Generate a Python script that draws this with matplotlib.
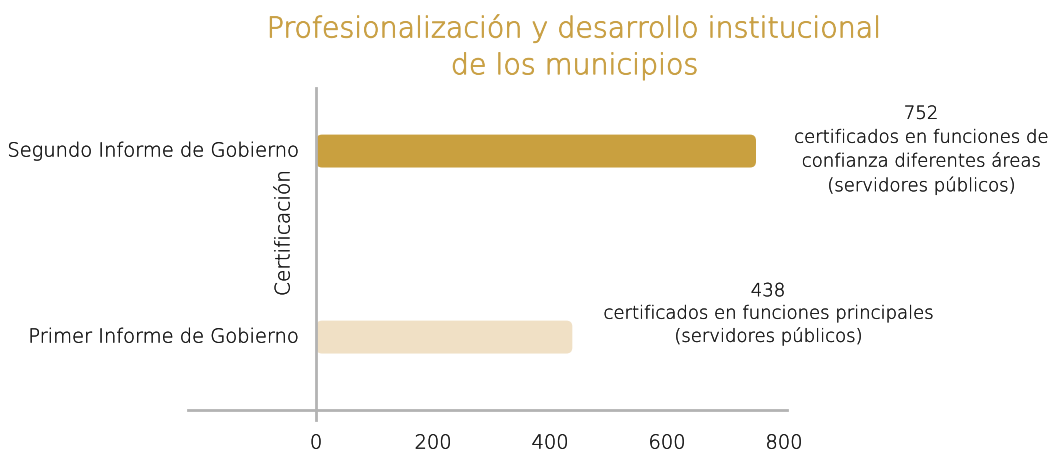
import matplotlib
matplotlib.use("Agg")
import matplotlib.pyplot as plt
from matplotlib.patches import FancyBboxPatch
import matplotlib.transforms as mtransforms
import matplotlib.patheffects as pe

categories = ["Primer Informe de Gobierno", "Segundo Informe de Gobierno"]
values = [438, 752]
bar_colors = ["#F0E0C5", "#C9A03F"]
annotations = [
    "438\ncertificados en funciones principales\n(servidores públicos)",
    "752\ncertificados en funciones de\nconfianza diferentes áreas\n(servidores públicos)",
]
xticks = [0, 200, 400, 600, 800]
title = "Profesionalización y desarrollo institucional\nde los municipios"
ylabel = "Certificación"

FONT = "DejaVu Sans"
WEIGHT = 200
TXT = "#1a1a1a"
GOLD = "#C9A044"
TXT_PE = [pe.withStroke(linewidth=0.2, foreground=TXT)]
W, H = 1054, 453
fig = plt.figure(figsize=(W / 100, H / 100), dpi=100)
left, right, top, bottom = 188, 787, 88, 410
ax = fig.add_axes([left / W, 1 - bottom / H, (right - left) / W, (bottom - top) / H])

xmin, xmax = -219, 805
ymin, ymax = -0.392, 1.339
ax.set_xlim(xmin, xmax)
ax.set_ylim(ymin, ymax)
for s in ax.spines.values():
    s.set_visible(False)

bar_h = 0.177
ux = (xmax - xmin) / (right - left)
uy = (ymax - ymin) / (bottom - top)
for i, (v, c) in enumerate(zip(values, bar_colors)):
    p = FancyBboxPatch((0, i - bar_h / 2), v, bar_h,
                       boxstyle=f"round,pad=0,rounding_size={6 * ux}",
                       mutation_aspect=uy / ux, fc=c, ec="none", zorder=2)
    ax.add_patch(p)

# axis lines
ax.axhline(ymin, color="#B3B3B3", lw=2, clip_on=False, zorder=1)
trans = mtransforms.blended_transform_factory(ax.transData, ax.transAxes)
ax.plot([0, 0], [-10 / (bottom - top), 1.0], color="#B3B3B3", lw=2,
        transform=trans, clip_on=False, zorder=3)

ax.set_xticks(xticks)
ax.set_xticklabels([str(t) for t in xticks], fontsize=14, family=FONT,
                   weight=WEIGHT, color=TXT)
for lbl in ax.get_xticklabels():
    lbl.set_path_effects(TXT_PE)
ax.tick_params(axis="x", length=0, pad=17)
ax.set_yticks([])
for i, cat in enumerate(categories):
    ax.annotate(cat, xy=(0, i), xytext=(-16, 0), textcoords="offset pixels",
                ha="right", va="center", fontsize=14, family=FONT,
                weight=WEIGHT, color=TXT, annotation_clip=False,
                path_effects=TXT_PE)

fig.text(284 / W, 1 - 233 / H, ylabel, rotation=90, ha="center", va="center",
         fontsize=14.5, family=FONT, weight=WEIGHT, color=TXT,
         path_effects=TXT_PE)

fig.text(575 / W, 1 - 47 / H, title, ha="center", va="center",
         fontsize=20.5, family=FONT, weight=WEIGHT, color=GOLD,
         linespacing=1.4,
         path_effects=[pe.withStroke(linewidth=0.6, foreground=GOLD)])

ann_pos = [(768, 314), (921, 150)]
ann_ls = [1.32, 1.42]
for (px, py), txt, ls in zip(ann_pos, annotations, ann_ls):
    fig.text(px / W, 1 - py / H, txt, ha="center", va="center", fontsize=13,
             family=FONT, weight=WEIGHT, color=TXT, linespacing=ls,
             path_effects=TXT_PE)

fig.savefig("out.png", dpi=100)
